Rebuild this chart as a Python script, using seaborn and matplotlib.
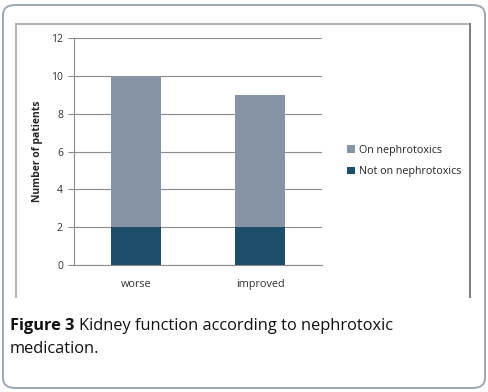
import matplotlib
matplotlib.use("Agg")
import matplotlib.pyplot as plt
import seaborn as sns
import pandas as pd
from matplotlib.patches import FancyBboxPatch, Patch, Rectangle

# Data
categories = ["worse", "improved"]
not_on_nephrotoxics = [2, 2]
on_nephrotoxics = [8, 7]
y_ticks = [0, 2, 4, 6, 8, 10, 12]

series_names = ["On nephrotoxics", "Not on nephrotoxics"]
colors = {"On nephrotoxics": "#8794a5", "Not on nephrotoxics": "#1f4e6c"}

df = pd.DataFrame({
    "outcome": categories,
    "not_on": not_on_nephrotoxics,
    "total": [a + b for a, b in zip(not_on_nephrotoxics, on_nephrotoxics)],
})

sns.set_style("white")
plt.rcParams["font.family"] = ["Open Sans", "DejaVu Sans"]

fig = plt.figure(figsize=(4.89, 3.92), dpi=100)

# outer rounded frame
frame = FancyBboxPatch((3 / 489, 4 / 392), 482 / 489, 383 / 392,
                       boxstyle="round,pad=0,rounding_size=0.025",
                       transform=fig.transFigure, facecolor="none",
                       edgecolor="#9ea8b4", linewidth=1.4, zorder=-1)
fig.patches.append(frame)


def fy(p):
    return 1 - p / 392


# inner chart frame, drawn as thin filled strips (pixel coords)
def strip(x0, y0, x1, y1, color):
    fig.patches.append(Rectangle((x0 / 489, fy(y1)), (x1 - x0) / 489, (y1 - y0) / 392,
                                 transform=fig.transFigure, facecolor=color,
                                 edgecolor="none", zorder=5))


strip(15, 23, 17, 298, "#b4b4b4")
strip(15, 23, 471, 25, "#b4b4b4")
strip(469, 23, 471, 298, "#808080")

ax = fig.add_axes([74 / 489, 127 / 392, 248 / 489, 227 / 392])
ax.patch.set_alpha(0)

sns.barplot(data=df, x="outcome", y="total", color=colors["On nephrotoxics"],
            width=0.4, saturation=1, ax=ax, zorder=3, linewidth=0, edgecolor="none")
sns.barplot(data=df, x="outcome", y="not_on", color=colors["Not on nephrotoxics"],
            width=0.4, saturation=1, ax=ax, zorder=3, linewidth=0, edgecolor="none")

ax.set_ylim(0, 12)
ax.set_xlim(-0.5, 1.5)
ax.set_yticks(y_ticks)
ax.set_yticklabels([str(t) for t in y_ticks], fontsize=7.5, color="#333333")
ax.set_xticks([0, 1])
ax.set_xticklabels(categories, fontsize=7.8, color="#333333")
ax.set_xticks([-0.5, 0.5, 1.5], minor=True)
ax.tick_params(axis="x", which="major", length=0, pad=10)
ax.tick_params(axis="x", which="minor", length=4, width=0.8, color="#8c8c8c", direction="out")
ax.tick_params(axis="y", length=4, width=0.8, color="#8c8c8c", direction="out", pad=4, left=True)
ax.set_xlabel("")
ax.set_ylabel("Number of patients", fontsize=7.5, fontweight="bold", labelpad=6)

ax.yaxis.grid(True, color="#8c8c8c", lw=0.8, zorder=0)
ax.set_axisbelow(True)
for side in ["top", "right"]:
    ax.spines[side].set_visible(False)
for side in ["left", "bottom"]:
    ax.spines[side].set_color("#8c8c8c")
    ax.spines[side].set_linewidth(0.8)

handles = [Patch(facecolor=colors[n], edgecolor="none", label=n) for n in series_names]
fig.legend(handles=handles, loc="center left", bbox_to_anchor=(343 / 489, fy(161)),
           frameon=False, fontsize=7.75, handlelength=0.7, handleheight=0.7,
           handletextpad=0.35, labelspacing=1.0, borderaxespad=0)

# caption
cap_size = 11.8
bold = fig.text(10 / 489, fy(326), "Figure 3", fontsize=cap_size, fontweight="bold",
                va="center", ha="left", color="#111111")
fig.canvas.draw()
bb = bold.get_window_extent().transformed(fig.transFigure.inverted())
fig.text(bb.x1 + 5 / 489, fy(326), "Kidney function according to nephrotoxic",
         fontsize=cap_size, va="center", ha="left", color="#111111")
fig.text(10 / 489, fy(349), "medication.", fontsize=cap_size, va="center", ha="left",
         color="#111111")

fig.savefig("out.png", dpi=100)
